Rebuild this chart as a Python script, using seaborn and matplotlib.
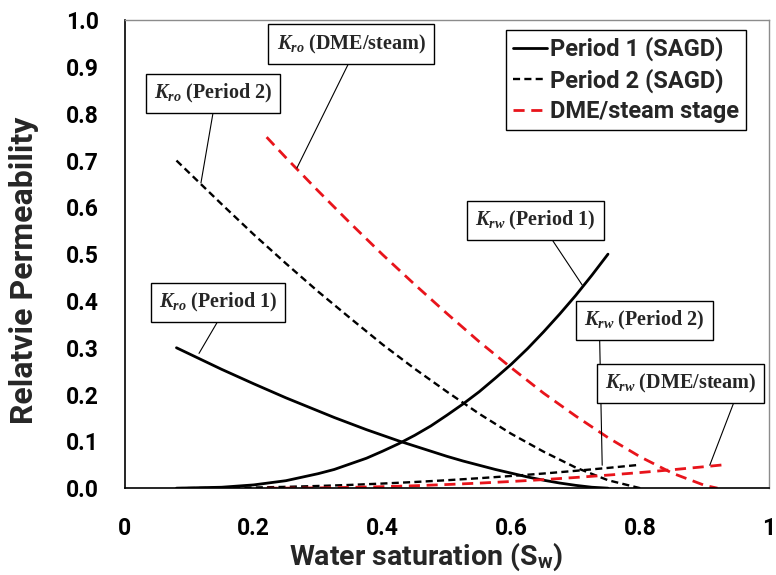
import matplotlib
matplotlib.use("Agg")
import matplotlib.pyplot as plt
import pandas as pd
import seaborn as sns

# Period 1 (SAGD)
sw_p1 = [0.08, 0.15, 0.20, 0.25, 0.30, 0.325, 0.35, 0.375, 0.40, 0.425, 0.45, 0.475, 0.50,
         0.525, 0.55, 0.575, 0.60, 0.625, 0.65, 0.675, 0.70, 0.725, 0.75]
kro_p1 = [0.300, 0.254, 0.223, 0.193, 0.165, 0.151, 0.138, 0.125, 0.113, 0.101, 0.090, 0.079, 0.068,
          0.058, 0.049, 0.040, 0.032, 0.024, 0.017, 0.011, 0.006, 0.002, 0.0]
krw_p1 = [0.0, 0.002, 0.007, 0.016, 0.031, 0.040, 0.052, 0.064, 0.079, 0.095, 0.113, 0.133, 0.156,
          0.180, 0.206, 0.235, 0.265, 0.298, 0.334, 0.372, 0.412, 0.455, 0.500]

# Period 2 (SAGD)
sw_p2 = [0.08, 0.15, 0.20, 0.25, 0.30, 0.35, 0.40, 0.45, 0.50, 0.55, 0.60, 0.65, 0.70, 0.75, 0.80]
kro_p2 = [0.700, 0.607, 0.542, 0.480, 0.420, 0.363, 0.307, 0.255, 0.206, 0.159, 0.116, 0.078, 0.044, 0.017, 0.0]
krw_p2 = [0.0, 0.0005, 0.0014, 0.0028, 0.0047, 0.0070, 0.0099, 0.0132, 0.0170, 0.0213, 0.0261, 0.0313, 0.0371, 0.0433, 0.050]

# DME/steam stage
sw_dme_o = [0.22, 0.25, 0.30, 0.35, 0.40, 0.45, 0.50, 0.55, 0.60, 0.65, 0.70, 0.75, 0.80, 0.85, 0.90, 0.92]
kro_dme = [0.750, 0.706, 0.635, 0.566, 0.499, 0.435, 0.373, 0.313, 0.257, 0.203, 0.154, 0.108, 0.067, 0.032, 0.006, 0.0]
sw_dme_w = [0.22, 0.25, 0.30, 0.35, 0.40, 0.45, 0.50, 0.55, 0.60, 0.65, 0.70, 0.75, 0.80, 0.85, 0.90, 0.93]
krw_dme = [0.0, 0.0001, 0.0006, 0.0017, 0.0032, 0.0052, 0.0078, 0.0108, 0.0143, 0.0183, 0.0229, 0.0279, 0.0334, 0.0394, 0.0459, 0.050]

stage_names = ["Period 1 (SAGD)", "Period 2 (SAGD)", "DME/steam stage"]
x_ticks = [0, 0.2, 0.4, 0.6, 0.8, 1.0]
x_ticklabels = ["0", "0.2", "0.4", "0.6", "0.8", "1"]
y_ticks = [0.0, 0.1, 0.2, 0.3, 0.4, 0.5, 0.6, 0.7, 0.8, 0.9, 1.0]

sns.set_style("white")
plt.rcParams["font.family"] = ["Roboto", "DejaVu Sans"]
plt.rcParams["font.weight"] = "bold"
plt.rcParams["mathtext.fontset"] = "custom"
plt.rcParams["mathtext.it"] = "Liberation Serif:italic:bold"
plt.rcParams["mathtext.rm"] = "Liberation Serif:bold"

curves = [
    (sw_p1, kro_p1, stage_names[0]),
    (sw_p1, krw_p1, stage_names[0]),
    (sw_p2, kro_p2, stage_names[1]),
    (sw_p2, krw_p2, stage_names[1]),
    (sw_dme_o, kro_dme, stage_names[2]),
    (sw_dme_w, krw_dme, stage_names[2]),
]
styles = {
    stage_names[0]: dict(color="black", lw=2.0, dashes=None),
    stage_names[1]: dict(color="black", lw=1.7, dashes=(3.0, 1.8)),
    stage_names[2]: dict(color="#e8141b", lw=2.0, dashes=(4.0, 2.4)),
}

fig, ax = plt.subplots(figsize=(7.76, 5.75), dpi=100)
fig.subplots_adjust(left=0.161, right=0.991, bottom=0.151, top=0.965)

seen = set()
for sw, kr, stage in curves:
    st = styles[stage]
    df = pd.DataFrame({"Sw": sw, "kr": kr})
    label = stage if stage not in seen else "_nolegend_"
    seen.add(stage)
    line_kw = dict(color=st["color"], linewidth=st["lw"])
    if st["dashes"] is not None:
        line_kw["dashes"] = st["dashes"]
    sns.lineplot(data=df, x="Sw", y="kr", ax=ax, label=label, **line_kw)

# boxed curve labels with leader lines: (text, box centre, curve point, leader start on box)
notes = [
    (r"$K_{ro}$ (DME/steam)", (0.351, 0.949), (0.267, 0.684), (0.51, 0)),
    (r"$K_{ro}$ (Period 2)", (0.137, 0.843), (0.118, 0.652), (0.51, 0)),
    (r"$K_{ro}$ (Period 1)", (0.145, 0.396), (0.115, 0.288), (0.53, 0)),
    (r"$K_{rw}$ (Period 1)", (0.637, 0.571), (0.710, 0.434), (0.60, 0)),
    (r"$K_{rw}$ (Period 2)", (0.807, 0.358), (0.741, 0.049), (0.125, 0)),
    (r"$K_{rw}$ (DME/steam)", (0.863, 0.224), (0.908, 0.049), (0.87, 0)),
]
for text, xytext, xy, rel in notes:
    ax.annotate(
        text, xy=xy, xytext=xytext, ha="center", va="center",
        fontsize=14.5, fontfamily="Liberation Serif", fontweight="bold",
        bbox=dict(boxstyle="square,pad=0.4", fc="white", ec="black", lw=1),
        arrowprops=dict(arrowstyle="-", color="black", lw=0.8, shrinkA=0, shrinkB=0, relpos=rel),
    )

ax.set_xlim(0, 1)
ax.set_ylim(0, 1)
ax.set_xticks(x_ticks)
ax.set_xticklabels(x_ticklabels)
ax.set_yticks(y_ticks)
ax.set_yticklabels([f"{v:.1f}" for v in y_ticks])
ax.tick_params(axis="both", direction="in", length=6, width=1, labelsize=16.5, colors="black")
ax.tick_params(axis="y", pad=19)
ax.tick_params(axis="x", pad=21)
ax.set_xlabel(r"Water saturation (S$_\mathregular{w}$)", fontsize=20.5, fontweight="bold")
ax.set_ylabel("Relatvie Permeability", fontsize=23, fontweight="bold")
ax.xaxis.set_label_coords(0.467, -0.112)
ax.yaxis.set_label_coords(-0.133, 0.465)

for side in ["left", "bottom"]:
    ax.spines[side].set_color("black")
    ax.spines[side].set_linewidth(1.2)
for side in ["top", "right"]:
    ax.spines[side].set_color("#8c8c8c")
    ax.spines[side].set_linewidth(1.0)

leg = ax.legend(
    loc="upper right", bbox_to_anchor=(0.964, 0.979), borderaxespad=0,
    frameon=True, fancybox=False, framealpha=1, edgecolor="black",
    prop=dict(family="Roboto", weight="bold", size=17),
    handlelength=1.45, handletextpad=0.1, labelspacing=0.3, borderpad=0.3,
)
leg.get_frame().set_linewidth(1.0)

plt.savefig("out.png", dpi=100)
